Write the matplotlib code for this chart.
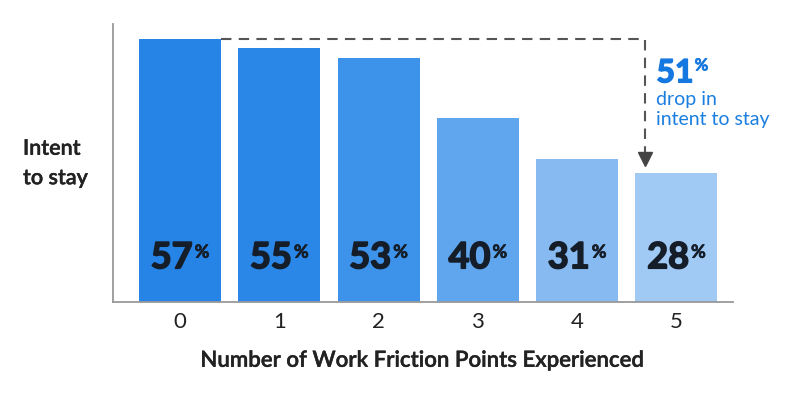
import matplotlib
matplotlib.use("Agg")
import matplotlib.pyplot as plt
import matplotlib.patheffects as pe

plt.rcParams['font.family'] = ['Lato', 'DejaVu Sans']

# data
friction_points = [0, 1, 2, 3, 4, 5]
intent_to_stay = [57, 55, 53, 40, 31, 28]
bar_colors = ['#2684E6', '#2A87E7', '#3D92EA', '#5FA6EE', '#86BAF1', '#A0C9F4']
drop_pct = 51

fig = plt.figure(figsize=(7.91, 4.01), dpi=100)
ax = fig.add_axes([113 / 791, 99 / 401, 620 / 791, 278 / 401])

ax.bar(friction_points, intent_to_stay, width=0.826, color=bar_colors, zorder=2)

ax.set_xlim(-0.675, 5.57)
ax.set_ylim(0, 60.3)

for s in ['top', 'right']:
    ax.spines[s].set_visible(False)
for s in ['left', 'bottom']:
    ax.spines[s].set_color('#999999')
    ax.spines[s].set_linewidth(1.3)

# Lato Black / Semibold are not available, so thicken the faces with a stroke
heavy_dark = [pe.withStroke(linewidth=1.2, foreground='#151d28')]
light_dark = [pe.withStroke(linewidth=0.5, foreground='#151d28')]
heavy_blue = [pe.withStroke(linewidth=1.1, foreground='#1578E0')]
light_blue = [pe.withStroke(linewidth=0.5, foreground='#1578E0')]
semi_grey = [pe.withStroke(linewidth=0.3, foreground='#222222')]

ax.set_yticks([])
ax.set_xticks(friction_points)
ax.set_xticklabels([str(p) for p in friction_points], fontsize=16, color='#222222')
ax.tick_params(axis='x', length=0, pad=7)

ax.set_xlabel('Number of Work Friction Points Experienced', fontsize=16,
              fontweight='semibold', color='#222222', labelpad=13,
              path_effects=semi_grey)

fig.text(23 / 791, 1 - 163 / 401, 'Intent\nto stay', fontsize=15.5, fontweight='semibold',
         color='#222222', ha='left', va='center', linespacing=1.5,
         path_effects=semi_grey)

# value labels inside bars
for x, v in zip(friction_points, intent_to_stay):
    ax.annotate(str(v), (x, 9.6), xytext=(-6, 0), textcoords='offset points',
                ha='center', va='center', fontsize=26, fontweight='bold',
                color='#151d28', zorder=3, path_effects=heavy_dark)
    ax.annotate('%', (x, 9.6), xytext=(10.5, 4), textcoords='offset points',
                ha='left', va='center', fontsize=13, fontweight='bold',
                color='#151d28', zorder=3, path_effects=light_dark)

# dashed connector from first bar to last bar
x_drop = 4.68
ax.plot([0.413, x_drop, x_drop], [intent_to_stay[0], intent_to_stay[0], 32.6],
        color='#555555', lw=1.5, dashes=(5, 3.5), zorder=1, clip_on=False)
ax.plot([x_drop], [31.0], marker='v', ms=10, color='#444444', zorder=3, clip_on=False)

# drop annotation
ax.annotate(str(drop_pct), (x_drop, intent_to_stay[0]), xytext=(8.5, -31),
            textcoords='offset points', ha='left', va='baseline', fontsize=23,
            fontweight='bold', color='#1578E0', path_effects=heavy_blue)
ax.annotate('%', (x_drop, intent_to_stay[0]), xytext=(36, -22.5),
            textcoords='offset points', ha='left', va='baseline', fontsize=12,
            fontweight='bold', color='#1578E0', path_effects=light_blue)
ax.annotate('drop in\nintent to stay', (x_drop, intent_to_stay[0]), xytext=(8.5, -37),
            textcoords='offset points', ha='left', va='top', fontsize=14,
            color='#1A7EE0', linespacing=1.25)

fig.savefig('out.png', dpi=100, facecolor='white')
